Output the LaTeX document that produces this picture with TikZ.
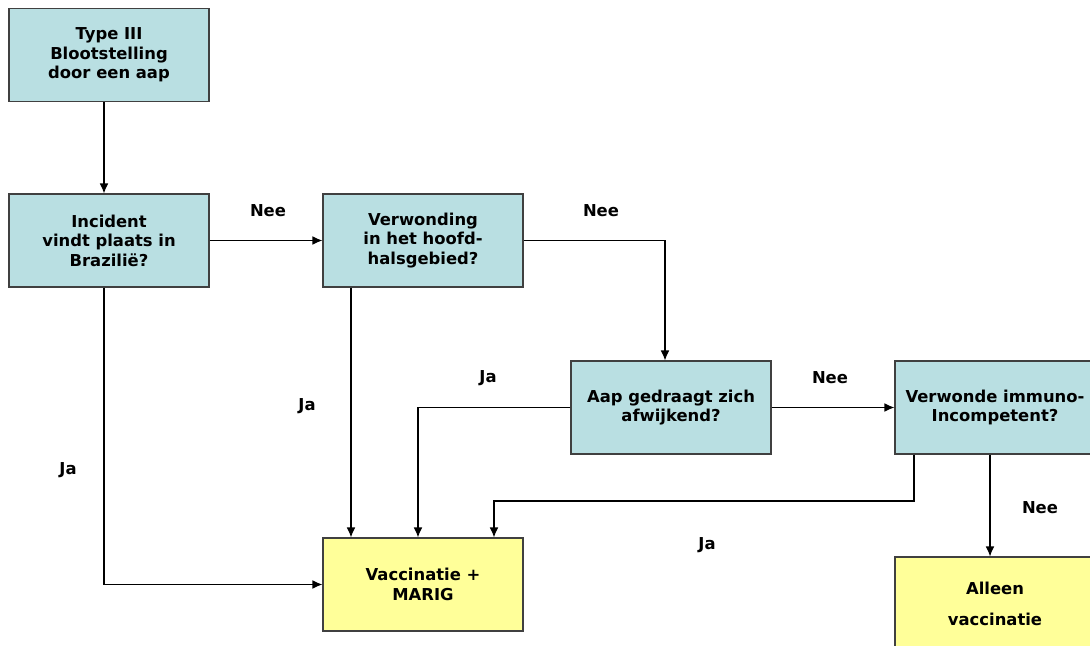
\documentclass[tikz,border=0pt]{standalone}
\usepackage{fontspec}
\setmainfont{DejaVu Sans}
\usetikzlibrary{arrows.meta}
\definecolor{vraagblauw}{RGB}{185,223,226}
\definecolor{uitkomstgeel}{RGB}{255,255,153}
\tikzset{
  vak/.style={draw=black!75, line width=0.8pt, minimum width=150pt, minimum height=69.75pt,
    align=center, inner sep=0pt, font=\fontsize{12.3}{14.6}\selectfont\bfseries},
  vraag/.style={vak, fill=vraagblauw},
  uitkomst/.style={vak, fill=uitkomstgeel},
  lbl/.style={font=\fontsize{12.3}{14}\selectfont\bfseries},
  pijl/.style={-{Latex[length=7.5pt,width=6.5pt]}, line width=0.8pt}
}
\begin{document}
\begin{tikzpicture}[x=0.75pt,y=-0.75pt] % px grid, y down


\clip (0,0) rectangle (1090,646);

\node [vraag] (typeiii) at (109,55) {Type III\\Blootstelling\\door een aap};
\node [vraag] (incident) at (109,240.5) {Incident\\vindt plaats in\\Brazilië?};
\node [vraag] (verwonding) at (423,240.5) {Verwonding\\in het hoofd-\\halsgebied?};
\node [vraag] (aap) at (671,407.5) {Aap gedraagt zich\\afwijkend?};
\node [vraag] (immuno) at (995,407.5) {Verwonde immuno-\\Incompetent?};
\node [uitkomst] (marig) at (423,584.5) {Vaccinatie +\\MARIG};
\node [uitkomst] (alleen) at (995,603.5) {Alleen\\[8.5pt]vaccinatie};

\draw [pijl] (typeiii.south -| 104,0) -- (incident.north -| 104,0);
\draw [pijl] (incident.east) -- (verwonding.west);
\draw [pijl] (verwonding.east) -| (aap.north -| 665,0);
\draw [pijl] (aap.east) -- (immuno.west);
\draw [pijl] (immuno.south -| 990,0) -- (alleen.north -| 990,0);
\draw [pijl] (incident.south -| 104,0) |- (marig.west);
\draw [pijl] (verwonding.south -| 351,0) -- (marig.north -| 351,0);
\draw [pijl] (aap.west) -| (marig.north -| 418,0);
\draw [pijl] (immuno.south -| 914,0) |- (494,501) -- (marig.north -| 494,0);

\node [lbl] (nee1) at (268,211) {Nee};
\node [lbl] (nee2) at (601,211) {Nee};
\node [lbl] (nee3) at (830,378) {Nee};
\node [lbl] (nee4) at (1040,508) {Nee};
\node [lbl] (ja1) at (68,470) {Ja};
\node [lbl] (ja2) at (307,406) {Ja};
\node [lbl] (ja3) at (488,378) {Ja};
\node [lbl] (ja4) at (707,545) {Ja};

\end{tikzpicture}
\end{document}
